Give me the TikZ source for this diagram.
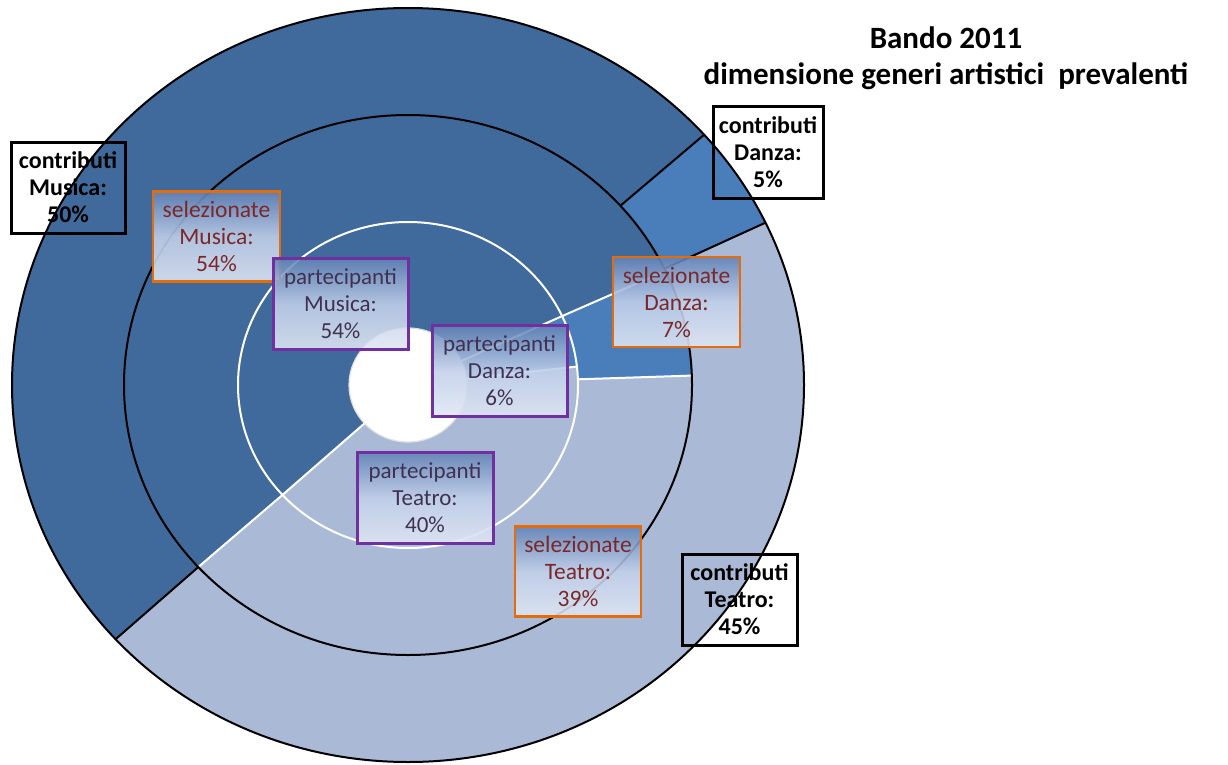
\documentclass[tikz,border=0pt]{standalone}
\usepackage{fontspec}
\setmainfont{Carlito}
\definecolor{musicaC}{RGB}{64,106,155}
\definecolor{danzaC}{RGB}{74,126,187}
\definecolor{teatroC}{RGB}{170,186,214}
\definecolor{selBorder}{RGB}{228,108,10}
\definecolor{selText}{RGB}{122,40,40}
\definecolor{parBorder}{RGB}{112,48,160}
\definecolor{parText}{RGB}{63,49,81}
\definecolor{gradTop}{RGB}{98,130,182}
\definecolor{gradMid}{RGB}{194,208,234}
\definecolor{gradBot}{RGB}{224,231,244}
% filled sector of an elliptic ring: style, start, end, inner rx, inner ry, outer rx, outer ry
\newcommand\ringsector[7]{%
  \fill[#1] (#2:#6pt and #7pt) arc[start angle=#2, end angle=#3, x radius=#6pt, y radius=#7pt]
    -- (#3:#4pt and #5pt) arc[start angle=#3, end angle=#2, x radius=#4pt, y radius=#5pt] -- cycle;}
\begin{document}
\begin{tikzpicture}[x=1pt,y=1pt,
  contrib/.style={draw=black, line width=3pt, minimum width=#1, minimum height=91pt,
    align=center, inner sep=0pt, font=\fontsize{24}{27}\selectfont\bfseries},
  selbox/.style={draw=selBorder, line width=2.5pt, top color=gradTop, bottom color=gradBot,
    middle color=gradMid, fill opacity=0.88, text opacity=1, minimum width=#1, minimum height=90pt,
    align=center, inner sep=0pt, text=selText, font=\fontsize{23.5}{27}\selectfont},
  parbox/.style={draw=parBorder, line width=3pt, top color=gradTop, bottom color=gradBot,
    middle color=gradMid, fill opacity=0.88, text opacity=1, minimum width=#1, minimum height=91pt,
    align=center, inner sep=0pt, text=parText, font=\fontsize{23}{27}\selectfont},
  blackrule/.style={draw=black, line width=2pt},
  whiterule/.style={draw=white, line width=2pt}]
\useasboundingbox (0,0) rectangle (1228,-765);

\begin{scope}[shift={(408,-385)}]
  % outer ring: contributi
  \ringsector{musicaC}{41.6}{222.4}{284}{270}{396}{377}
  \ringsector{danzaC}{25.5}{41.6}{284}{270}{396}{377}
  \ringsector{teatroC}{-137.6}{25.5}{284}{270}{396}{377}
  % middle ring: selezionate
  \ringsector{musicaC}{25}{222.4}{170}{163}{284}{270}
  \ringsector{danzaC}{2}{25}{170}{163}{284}{270}
  \ringsector{teatroC}{-137.6}{2}{170}{163}{284}{270}
  % inner ring: partecipanti
  \ringsector{musicaC}{25}{222.4}{59}{57}{170}{163}
  \ringsector{danzaC}{6.5}{25}{59}{57}{170}{163}
  \ringsector{teatroC}{-137.6}{6.5}{59}{57}{170}{163}
  % hole
  \fill[white] (0,0) ellipse [x radius=59pt, y radius=57pt];
  \draw[gray!25, line width=1.2pt] (0,0) ellipse [x radius=59pt, y radius=57pt];
  % white separators of the two inner rings
  \foreach \a in {25,2,222.4}
    \draw[whiterule] (\a:170pt and 163pt) -- (\a:284pt and 270pt);
  \foreach \a in {25,6.5,222.4}
    \draw[whiterule] (\a:59pt and 57pt) -- (\a:170pt and 163pt);
  \draw[whiterule] (0,0) ellipse [x radius=170pt, y radius=163pt];
  % black outlines of the outer ring
  \foreach \a in {41.6,25.5,222.4}
    \draw[blackrule] (\a:284pt and 270pt) -- (\a:396pt and 377pt);
  \draw[blackrule] (0,0) ellipse [x radius=284pt, y radius=270pt];
  \draw[blackrule] (0,0) ellipse [x radius=396pt, y radius=377pt];
\end{scope}

% title
\node[font=\fontsize{31}{36}\selectfont\bfseries, align=center] (title) at (946,-58)
  {Bando 2011\\dimensione generi artistici\ \ prevalenti};

% labels
\node[contrib=114pt] (cM) at (68,-187.5) {contributi\\Musica:\\50\%};
\node[contrib=110pt] (cD) at (768,-152.5) {contributi\\Danza:\\5\%};
\node[contrib=115pt] (cT) at (739.5,-599.5) {contributi\\Teatro:\\45\%};

\node[selbox=127pt] (sM) at (216.5,-236.5) {selezionate\\Musica:\\54\%};
\node[selbox=127pt] (sD) at (676.5,-302) {selezionate\\Danza:\\7\%};
\node[selbox=126pt] (sT) at (578,-571.5) {selezionate\\Teatro:\\39\%};

\node[parbox=135pt] (pM) at (340.5,-304) {partecipanti\\Musica:\\54\%};
\node[parbox=135pt] (pD) at (499.5,-371) {partecipanti\\Danza:\\6\%};
\node[parbox=136pt] (pT) at (425,-498) {partecipanti\\Teatro:\\40\%};
\end{tikzpicture}
\end{document}
